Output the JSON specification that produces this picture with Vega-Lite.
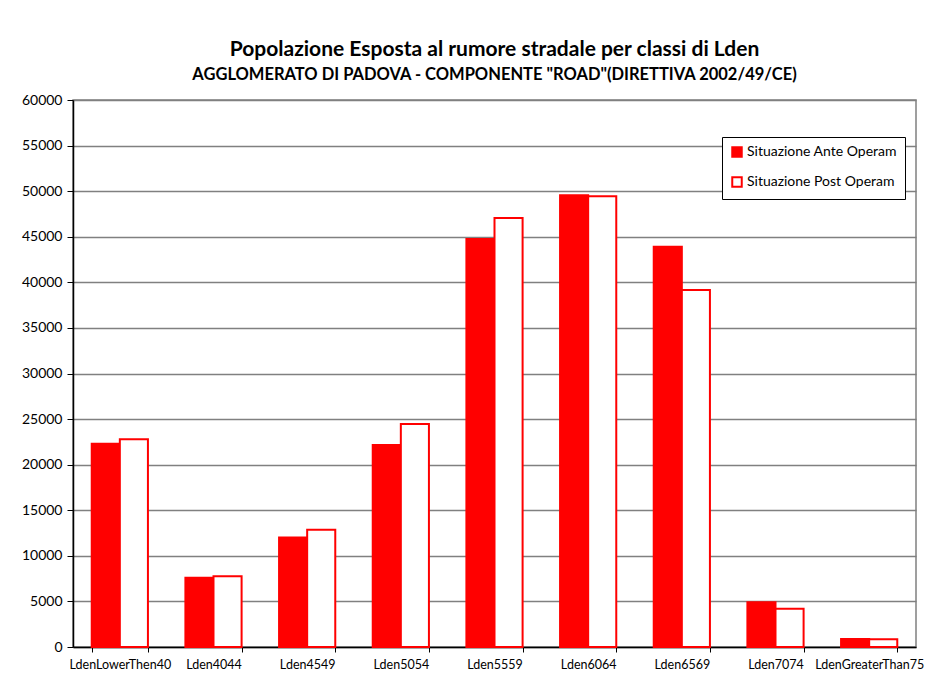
{
  "$schema": "https://vega.github.io/schema/vega-lite/v6.json",
  "autosize": {"type": "none"},
  "width": 843,
  "height": 547,
  "padding": {"left": 73, "top": 100, "right": 16, "bottom": 37},
  "background": "white",
  "title": {
    "text": "Popolazione  Esposta al rumore stradale per classi di Lden",
    "subtitle": "AGGLOMERATO DI PADOVA - COMPONENTE \"ROAD\"(DIRETTIVA 2002/49/CE)",
    "anchor": "middle",
    "font": "Lato",
    "fontSize": 21,
    "fontWeight": "bold",
    "color": "black",
    "subtitleFont": "Lato",
    "subtitleFontSize": 16.5,
    "subtitleFontWeight": "bold",
    "subtitleColor": "black",
    "subtitlePadding": 7,
    "offset": 10
  },
  "data": {
    "values": [
      {"classe": "LdenLowerThen40", "serie": "Situazione Ante Operam", "valore": 22300},
      {"classe": "LdenLowerThen40", "serie": "Situazione Post Operam", "valore": 22800},
      {"classe": "Lden4044", "serie": "Situazione Ante Operam", "valore": 7600},
      {"classe": "Lden4044", "serie": "Situazione Post Operam", "valore": 7750},
      {"classe": "Lden4549", "serie": "Situazione Ante Operam", "valore": 12000},
      {"classe": "Lden4549", "serie": "Situazione Post Operam", "valore": 12850},
      {"classe": "Lden5054", "serie": "Situazione Ante Operam", "valore": 22150},
      {"classe": "Lden5054", "serie": "Situazione Post Operam", "valore": 24450},
      {"classe": "Lden5559", "serie": "Situazione Ante Operam", "valore": 44750},
      {"classe": "Lden5559", "serie": "Situazione Post Operam", "valore": 47050},
      {"classe": "Lden6064", "serie": "Situazione Ante Operam", "valore": 49550},
      {"classe": "Lden6064", "serie": "Situazione Post Operam", "valore": 49450},
      {"classe": "Lden6569", "serie": "Situazione Ante Operam", "valore": 43900},
      {"classe": "Lden6569", "serie": "Situazione Post Operam", "valore": 39150},
      {"classe": "Lden7074", "serie": "Situazione Ante Operam", "valore": 4900},
      {"classe": "Lden7074", "serie": "Situazione Post Operam", "valore": 4200},
      {"classe": "LdenGreaterThan75", "serie": "Situazione Ante Operam", "valore": 880},
      {"classe": "LdenGreaterThan75", "serie": "Situazione Post Operam", "valore": 840}
    ]
  },
  "mark": {"type": "bar", "stroke": "#ff0000", "strokeWidth": 2, "strokeJoin": "miter"},
  "encoding": {
    "x": {
      "field": "classe",
      "type": "nominal",
      "sort": null,
      "scale": {"paddingInner": 0.4, "paddingOuter": 0.2},
      "axis": {
        "title": null,
        "labelAngle": 0,
        "labelFont": "Lato",
        "labelFontSize": 12.5,
        "labelColor": "black",
        "labelPadding": 6,
        "domainColor": "black",
        "domainWidth": 1.5,
        "tickColor": "black",
        "tickBand": "extent",
        "tickSize": 5,
        "grid": false
      }
    },
    "xOffset": {"field": "serie", "type": "nominal", "scale": {"paddingInner": 0}},
    "y": {
      "field": "valore",
      "type": "quantitative",
      "scale": {"domain": [0, 60000], "nice": false},
      "axis": {
        "title": null,
        "values": [0, 5000, 10000, 15000, 20000, 25000, 30000, 35000, 40000, 45000, 50000, 55000, 60000],
        "format": "d",
        "labelFont": "Lato",
        "labelFontSize": 14,
        "labelColor": "black",
        "labelPadding": 5,
        "domainColor": "black",
        "domainWidth": 1.5,
        "tickColor": "black",
        "tickSize": 6,
        "gridColor": "#808080",
        "gridWidth": 1.5,
        "gridOpacity": 1
      }
    },
    "fill": {
      "field": "serie",
      "type": "nominal",
      "scale": {"domain": ["Situazione Ante Operam", "Situazione Post Operam"], "range": ["#ff0000", "#ffffff"]},
      "legend": {
        "title": null,
        "orient": "none",
        "legendX": 649,
        "legendY": 37,
        "direction": "vertical",
        "symbolType": "square",
        "symbolSize": 90,
        "symbolStrokeColor": "#ff0000",
        "symbolStrokeWidth": 2,
        "labelFont": "Lato",
        "labelFontSize": 14,
        "labelOffset": 3,
        "labelColor": "black",
        "rowPadding": 12,
        "padding": 8,
        "strokeColor": "black",
        "fillColor": "white"
      }
    }
  },
  "config": {
    "view": {"stroke": "#808080", "strokeWidth": 1.5},
    "font": "Lato"
  }
}
